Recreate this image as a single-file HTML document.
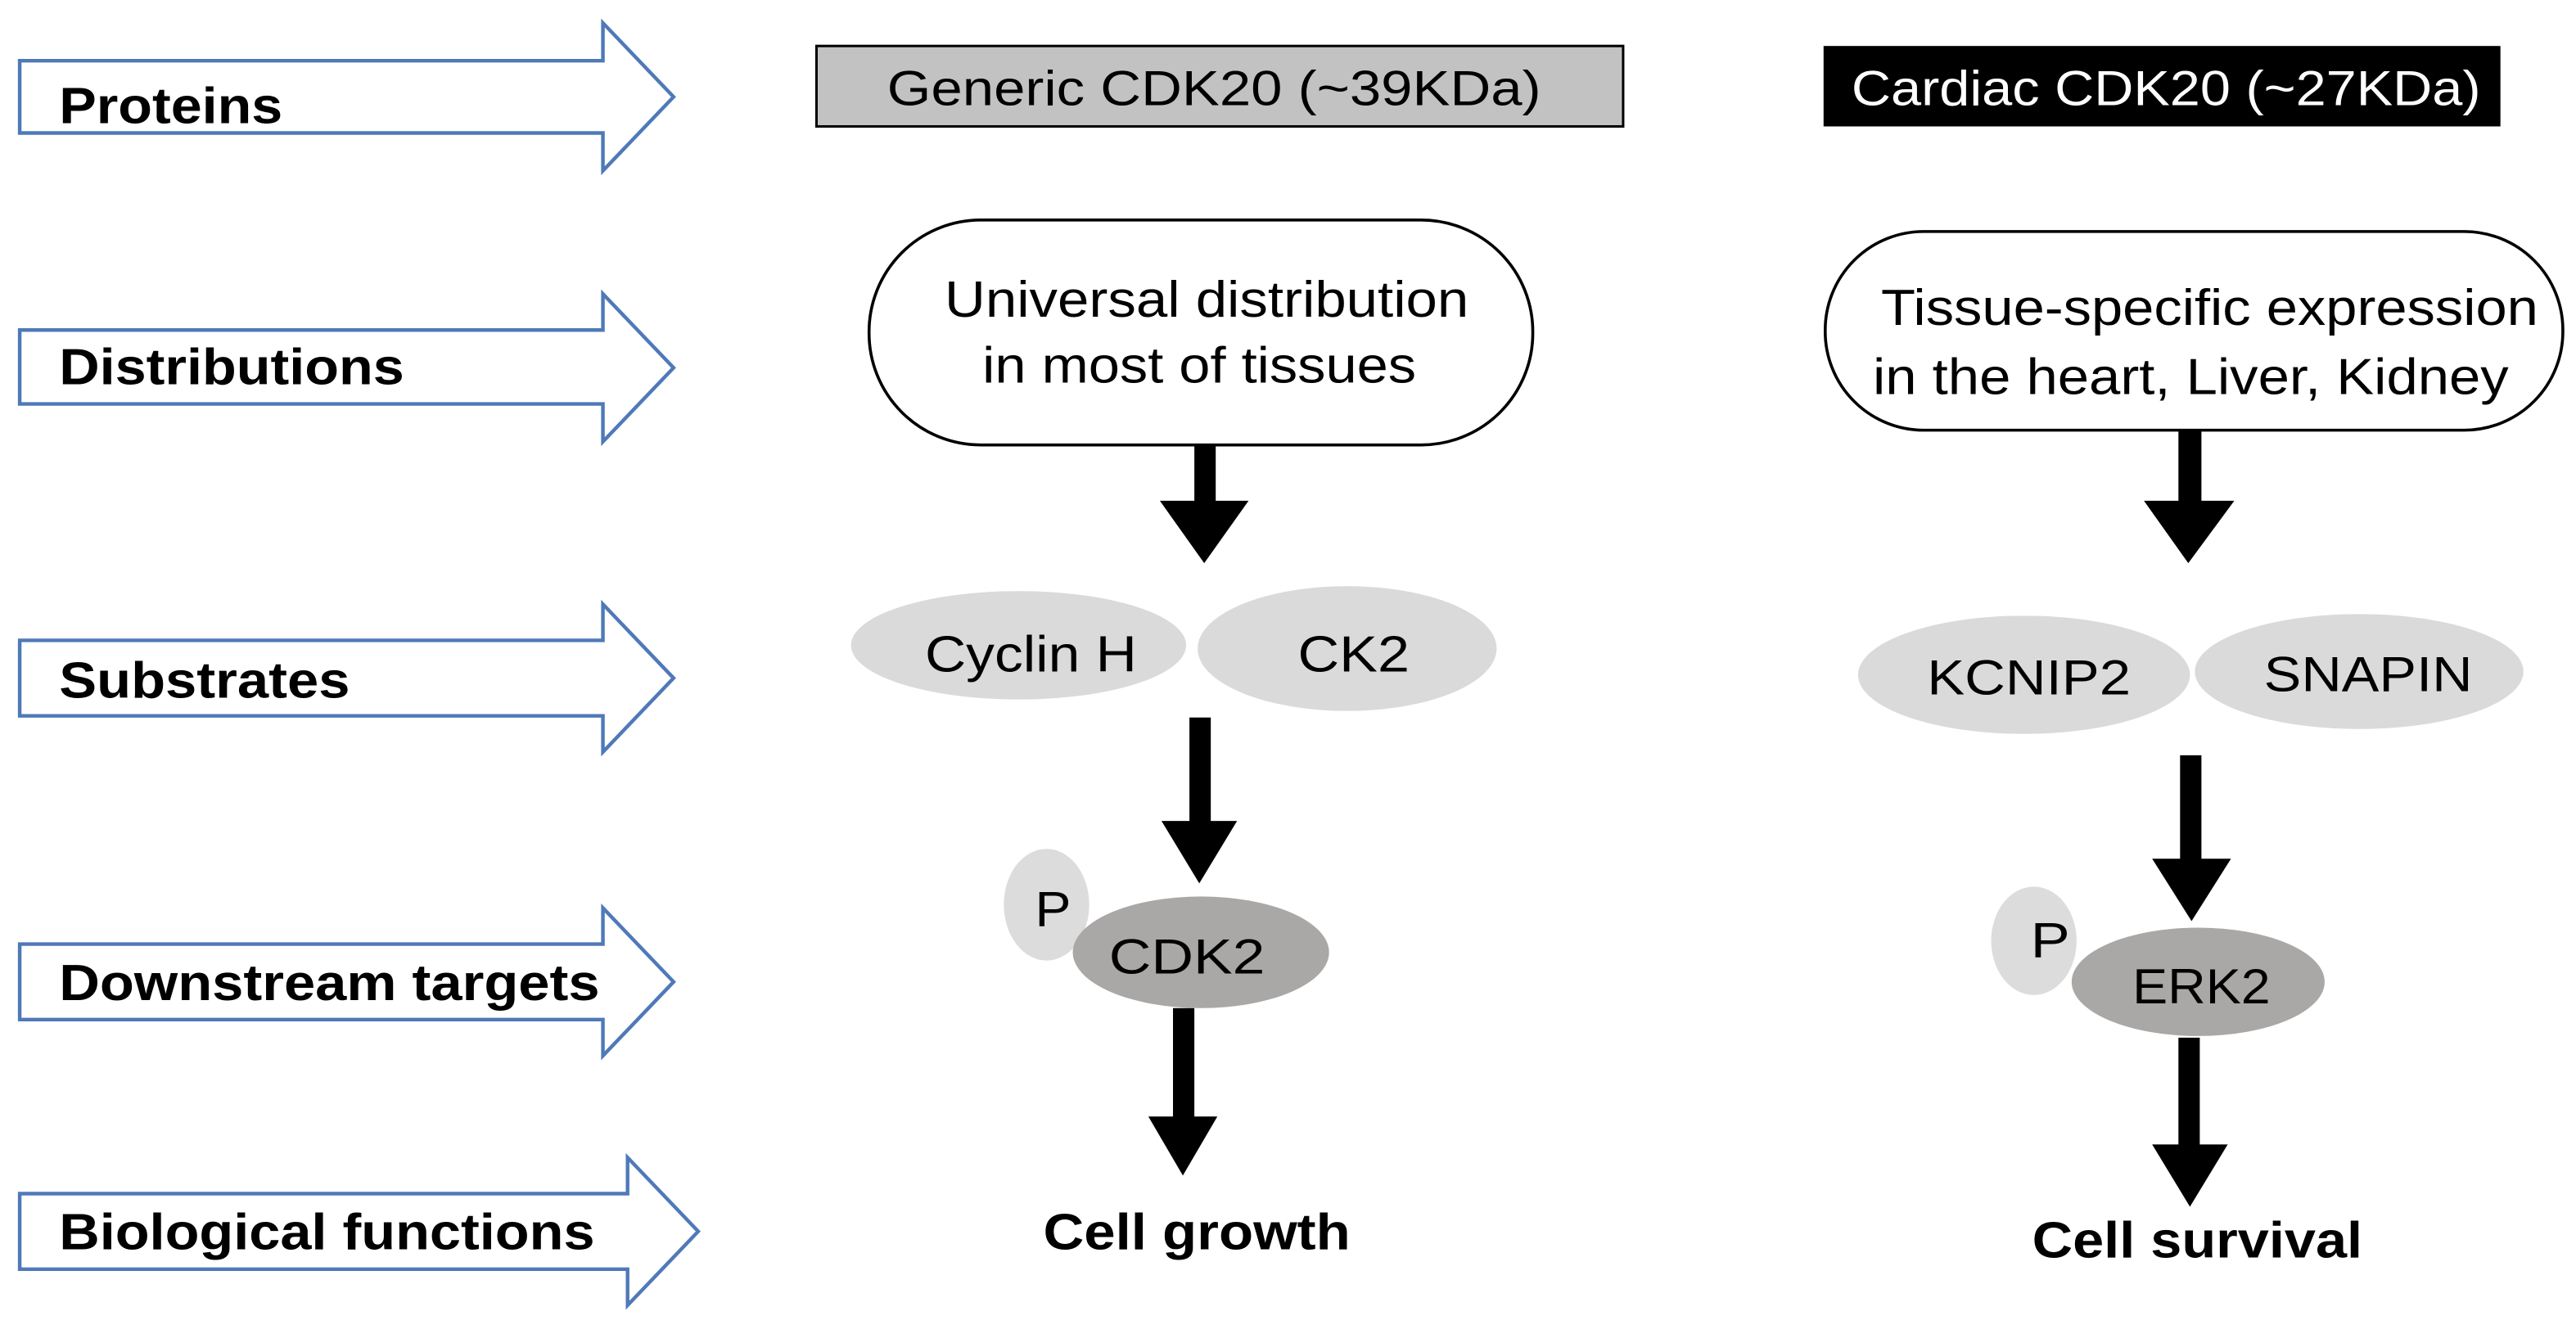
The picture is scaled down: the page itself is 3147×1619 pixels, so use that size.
<!DOCTYPE html>
<html><head><meta charset="utf-8"><style>html,body{margin:0;padding:0;background:#fff}svg{display:block}</style></head>
<body>
<svg width="3147" height="1619" viewBox="0 0 1568 807" preserveAspectRatio="none" xmlns="http://www.w3.org/2000/svg" font-family="Liberation Sans, sans-serif">
<rect width="1568" height="807" fill="#fff"/>
<g fill="#fff" stroke="#4f79b8" stroke-width="2.2">
<polygon points="12,37 367,37 367,14 410,59 367,104 367,81 12,81"/>
<polygon points="12,201 367,201 367,179 410,224 367,269 367,246 12,246"/>
<polygon points="12,390 367,390 367,368 410,413 367,458 367,436 12,436"/>
<polygon points="12,575 367,575 367,553 410,598 367,643 367,621 12,621"/>
<polygon points="12,727 382,727 382,705 425,750 382,795 382,773 12,773"/>
</g>
<g font-weight="bold" font-size="31" fill="#000">
<text x="36" y="75" textLength="136" lengthAdjust="spacingAndGlyphs">Proteins</text>
<text x="36" y="234" textLength="210" lengthAdjust="spacingAndGlyphs">Distributions</text>
<text x="36" y="425" textLength="177" lengthAdjust="spacingAndGlyphs">Substrates</text>
<text x="36" y="609" textLength="329" lengthAdjust="spacingAndGlyphs">Downstream targets</text>
<text x="36" y="761" textLength="326" lengthAdjust="spacingAndGlyphs">Biological functions</text>
</g>
<rect x="497" y="28" width="491" height="49" fill="#c2c2c2" stroke="#000" stroke-width="1.5"/>
<text x="540" y="64" font-size="30" textLength="398" lengthAdjust="spacingAndGlyphs">Generic CDK20 (~39KDa)</text>
<rect x="1110" y="28" width="412" height="49" fill="#000"/>
<text x="1127" y="64" font-size="30" fill="#fff" textLength="383" lengthAdjust="spacingAndGlyphs">Cardiac CDK20 (~27KDa)</text>
<rect x="529" y="134" width="404" height="137" rx="68" ry="68" fill="#fff" stroke="#000" stroke-width="1.8"/>
<text x="575" y="193" font-size="31" textLength="319" lengthAdjust="spacingAndGlyphs">Universal distribution</text>
<text x="598" y="233" font-size="31" textLength="264" lengthAdjust="spacingAndGlyphs">in most of tissues</text>
<rect x="1111" y="141" width="449" height="121" rx="60" ry="60" fill="#fff" stroke="#000" stroke-width="1.8"/>
<text x="1145" y="198" font-size="31" textLength="400" lengthAdjust="spacingAndGlyphs">Tissue-specific expression</text>
<text x="1140" y="240" font-size="31" textLength="387" lengthAdjust="spacingAndGlyphs">in the heart, Liver, Kidney</text>
<g fill="#000">
<rect x="727" y="271" width="13" height="35"/><polygon points="706,305 760,305 733,343"/>
<rect x="724" y="437" width="13" height="64"/><polygon points="707,500 753,500 730,538"/>
<rect x="714" y="614" width="13" height="68"/><polygon points="699,680 741,680 720,716"/>
<rect x="1326" y="262" width="14" height="44"/><polygon points="1305,305 1360,305 1332,343"/>
<rect x="1327" y="460" width="13" height="64"/><polygon points="1310,523 1358,523 1334,561"/>
<rect x="1326" y="632" width="13" height="66"/><polygon points="1310,697 1356,697 1333,735"/>
</g>
<ellipse cx="620" cy="393" rx="102" ry="33" fill="#dadada"/>
<ellipse cx="820" cy="395" rx="91" ry="38" fill="#dadada"/>
<text x="563" y="409" font-size="31" textLength="129" lengthAdjust="spacingAndGlyphs">Cyclin H</text>
<text x="790" y="409" font-size="31" textLength="68" lengthAdjust="spacingAndGlyphs">CK2</text>
<ellipse cx="1232" cy="411" rx="101" ry="36" fill="#dadada"/>
<ellipse cx="1436" cy="409" rx="100" ry="35" fill="#dadada"/>
<text x="1173" y="423" font-size="30" textLength="124" lengthAdjust="spacingAndGlyphs">KCNIP2</text>
<text x="1378" y="421" font-size="30" textLength="127" lengthAdjust="spacingAndGlyphs">SNAPIN</text>
<ellipse cx="637" cy="551" rx="26" ry="34" fill="#dcdcdc"/>
<ellipse cx="731" cy="580" rx="78" ry="34" fill="#aaa7a7"/>
<text x="630" y="564" font-size="30" textLength="22" lengthAdjust="spacingAndGlyphs">P</text>
<text x="675" y="593" font-size="30" textLength="95" lengthAdjust="spacingAndGlyphs">CDK2</text>
<ellipse cx="1238" cy="573" rx="26" ry="33" fill="#dcdcdc"/>
<ellipse cx="1338" cy="598" rx="77" ry="33" fill="#aaa7a7"/>
<text x="1236" y="583" font-size="30" textLength="24" lengthAdjust="spacingAndGlyphs">P</text>
<text x="1298" y="611" font-size="30" textLength="84" lengthAdjust="spacingAndGlyphs">ERK2</text>
<text x="635" y="761" font-size="31" font-weight="bold" textLength="187" lengthAdjust="spacingAndGlyphs">Cell growth</text>
<text x="1237" y="766" font-size="31" font-weight="bold" textLength="201" lengthAdjust="spacingAndGlyphs">Cell survival</text>
</svg>
</body></html>
